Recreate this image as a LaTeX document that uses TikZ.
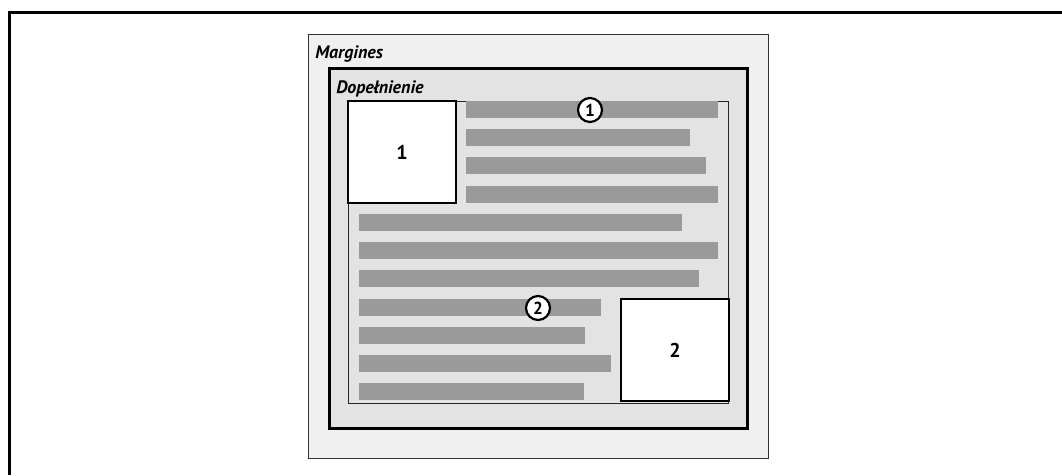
\documentclass[tikz,border=0pt]{standalone}
\usepackage{fontspec}
\setmainfont{PT Sans}
\usetikzlibrary{positioning}
\newlength\px
\setlength\px{0.75pt}
\definecolor{margingray}{HTML}{F0F0F0}
\definecolor{padgray}{HTML}{E3E3E3}
\definecolor{bargray}{HTML}{9A9A9A}
\begin{document}
\begin{tikzpicture}[
  x=0.75pt, y=-0.75pt,
  marginbox/.style={draw=black!80, line width=1\px, fill=margingray, minimum width=460\px, minimum height=424\px, inner sep=0pt},
  borderbox/.style={draw=black, line width=3\px, fill=padgray, minimum width=418\px, minimum height=360\px, inner sep=0pt},
  contentbox/.style={draw=black!85, line width=1\px, fill=padgray, minimum width=380\px, minimum height=302\px, inner sep=0pt},
  floatbox/.style={draw=black, line width=2.6\px, fill=white, minimum width=108\px, minimum height=102\px, inner sep=0pt, font=\fontsize{15}{17}\selectfont\bfseries},
  callout/.style={draw=black, line width=2.2\px, fill=white, circle, minimum size=24\px, inner sep=0pt, font=\fontsize{13}{15}\selectfont\bfseries},
  boxlabel/.style={anchor=base west, inner sep=0pt, font=\fontsize{13.5}{15}\selectfont\bfseries\itshape}
]
\useasboundingbox (0,0) rectangle (1062,475);

% Outer frame (only top and left edges shown)
\draw[line width=3\px] (1062,12) -- (9,12) -- (9,475);

% Nested boxes
\node[marginbox] (margin) at (538,246) {};
\node[borderbox] (border) at (538,248) {};
\node[contentbox] (content) at (538,252) {};

% Text lines
\foreach \xa/\ya/\xb in {466/101/718, 466/129/690, 466/157/706, 466/186/718,
                         359/214/682, 359/242/718, 359/270/699, 359/299/601,
                         359/327/585, 359/355/611, 359/383/584}
  \fill[bargray] (\xa,\ya) rectangle (\xb,\ya+17);

% Floats
\node[floatbox] (float1) at (402,152) {1};
\node[floatbox] (float2) at (675,350) {2};

% Callouts
\node[callout] (mark1) at (590,110) {1};
\node[callout] (mark2) at (538,308) {2};

% Labels
\node[boxlabel] (marginlabel) at (315,58) {Margines};
\node[boxlabel] (paddinglabel) at (336,93) {Dopełnienie};
\end{tikzpicture}
\end{document}
